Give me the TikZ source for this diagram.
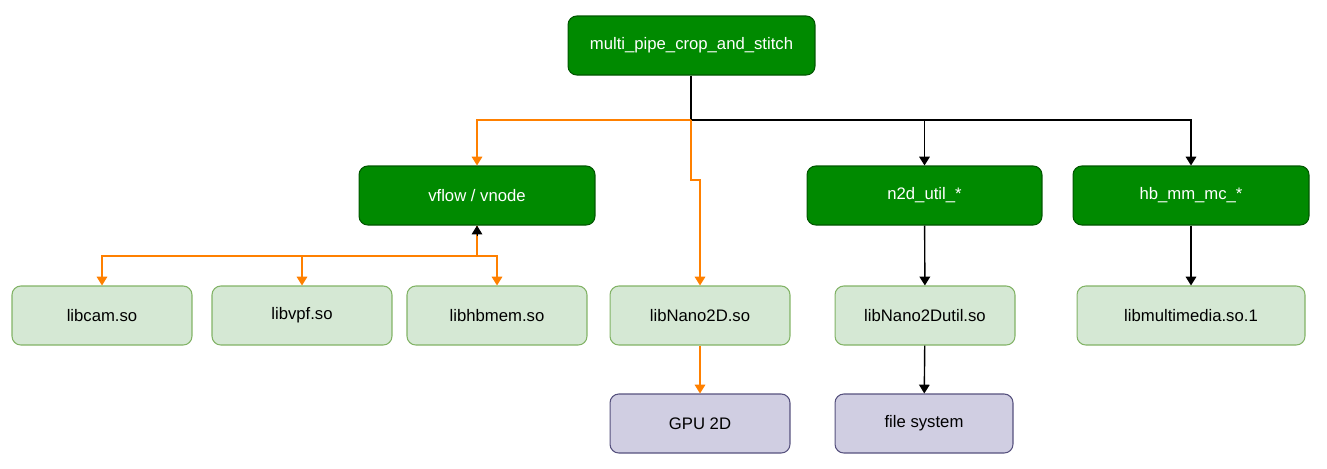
\documentclass[tikz,border=0pt]{standalone}
\usepackage{fontspec}
\setmainfont{Liberation Sans}
\usetikzlibrary{arrows.meta}
\definecolor{dg}{HTML}{008A00}
\definecolor{dgb}{HTML}{005700}
\definecolor{lg}{HTML}{D5E8D4}
\definecolor{lgb}{HTML}{82B366}
\definecolor{pu}{HTML}{D0CEE2}
\definecolor{pub}{HTML}{56517E}
\definecolor{og}{HTML}{FF8000}
\begin{document}
\begin{tikzpicture}[x=0.02cm,y=-0.02cm,
  base/.style={rounded corners=5pt,line width=0.6pt,minimum height=1.18cm,font=\fontsize{9.5}{11}\selectfont,inner sep=0pt},
  dark/.style={base,fill=dg,draw=dgb,text=white},
  light/.style={base,fill=lg,draw=lgb,text=black,minimum width=3.6cm},
  purp/.style={base,fill=pu,draw=pub,text=black,minimum width=3.6cm},
  oarr/.style={draw=og,line width=0.8pt,-{Triangle[length=5pt,width=6pt]}},
  barr/.style={draw=black,line width=0.8pt,-{Triangle[length=5pt,width=6pt]}}]
\useasboundingbox (0,0) rectangle (1327,468);
\node[dark,minimum width=4.94cm] (top) at (691.5,45.5) {multi\_pipe\_crop\_and\_stitch};
\node[dark,minimum width=4.72cm] (vf) at (477,195.5) {vflow / vnode};
\node[dark,minimum width=4.70cm] (n2d) at (924.5,195.5) {n2d\_util\_*};
\node[dark,minimum width=4.72cm] (hb) at (1191,195.5) {hb\_mm\_mc\_*};
\node[light] (cam) at (102,315.5) {libcam.so};
\node[light] (vpf) at (302,315.5) {libvpf.so};
\node[light] (hbm) at (497,315.5) {libhbmem.so};
\node[light] (nano) at (700,315.5) {libNano2D.so};
\node[light] (nutil) at (925,315.5) {libNano2Dutil.so};
\node[light,minimum width=4.56cm] (mm) at (1191,315.5) {libmultimedia.so.1};
\node[purp] (gpu) at (700,423.5) {GPU 2D};
\node[purp,minimum width=3.56cm] (fs) at (924,423.5) {file system};
\coordinate (t1) at (691,120);
\coordinate (t2) at (691,180);
\coordinate (t3) at (700,180);
\coordinate (v1) at (477,256);
\draw[barr] (top.south -| t1) -- (t1) -| (n2d.north);
\draw[barr] (t1) -| (hb.north);
\draw[oarr] (t1) -| (vf.north);
\draw[oarr] (t1) -- (t2) -- (t3) -- (nano.north);
\draw[oarr] (vf.south) -- (v1) -| (cam.north);
\draw[oarr] (v1) -| (vpf.north);
\draw[oarr] (v1) -| (hbm.north);
\draw[barr,line width=0.5pt] (477,236) -- (vf.south);
\draw[oarr] (nano) -- (gpu);
\draw[barr] (n2d) -- (nutil);
\draw[barr] (nutil) -- (fs);
\draw[barr] (hb) -- (mm);
\end{tikzpicture}
\end{document}
